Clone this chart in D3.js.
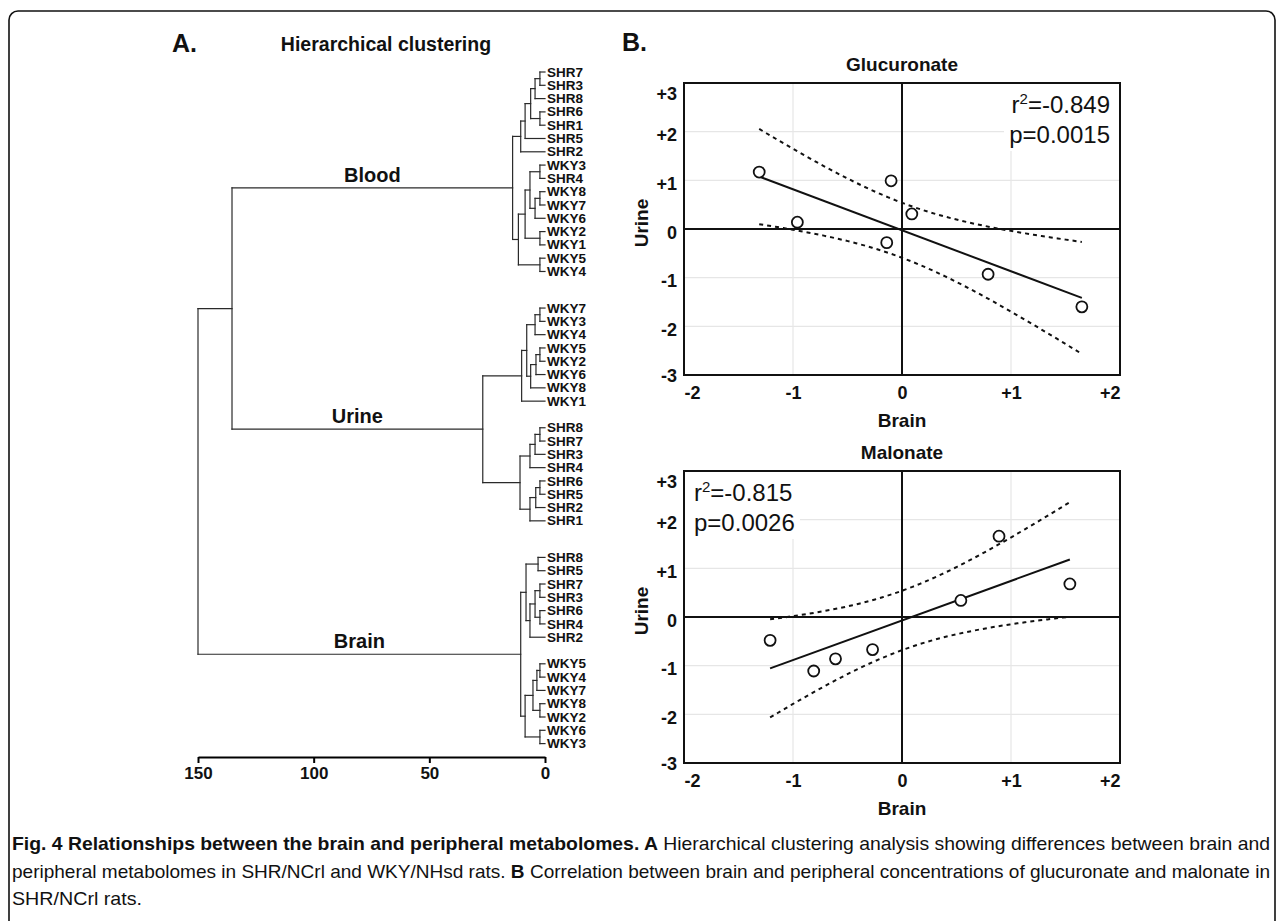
<!DOCTYPE html>
<html>
<head>
<meta charset="utf-8">
<script src="https://cdn.jsdelivr.net/npm/d3@7"></script>
<style>
body{margin:0;background:#fff}
svg text{font-family:"Liberation Sans",Arial,Helvetica,sans-serif;fill:#111}
</style>
</head>
<body>
<div id="canvas"></div>
<script>
// dendrograms, written as [left, right, mergeHeight]; leaves are names
const bloodTree = [
  [[[[['SHR7','SHR3',2.2],'SHR8',4.3],['SHR6','SHR1',2.2],6.2],'SHR5',8.6],'SHR2',10.5],
  [[[['WKY3','SHR4',2.2],[['WKY8','WKY7',2.2],'WKY6',4.3],6.5],['WKY2','WKY1',2.2],8.6],['WKY5','WKY4',2.2],11.5],
  14.0]
const urineTree = [
  [[[['WKY7','WKY3',2.2],'WKY4',4.3],[[['WKY5','WKY2',2.2],'WKY6',3.9],'WKY8',6.2],7.9],'WKY1',10.1],
  [[[['SHR8','SHR7',2.2],'SHR3',4.3],'SHR4',6.5],[[['SHR6','SHR5',2.2],'SHR2',4.0],'SHR1',6.5],10.8],
  26.9]
const brainTree = [
  [['SHR8','SHR5',3.0],[[['SHR7','SHR3',2.2],['SHR6','SHR4',2.2],4.3],'SHR2',6.5],8.2],
  [[[['WKY5','WKY4',2.2],'WKY7',3.5],['WKY8','WKY2',2.2],5.2],['WKY6','WKY3',2.2],8.6],
  10.5]
const tissues = ['Blood','Urine','Brain']
const topMerges = [135.3, 150]   // blood+urine, then with brain
const distTicks = [150,100,50,0]

// correlation panels
const glucBrain = [-1.31,-0.96,-0.10,-0.14,0.09,0.79,1.65]
const glucUrine = [1.17,0.14,0.99,-0.28,0.31,-0.93,-1.60]
const malBrain  = [-1.21,-0.81,-0.61,-0.27,0.54,0.89,1.54]
const malUrine  = [-0.48,-1.11,-0.86,-0.67,0.34,1.66,0.68]
const xTicks = [-2,-1,0,1,2]
const yTicks = [-3,-2,-1,0,1,2,3]
const glucStats = ['-0.849','0.0015']
const malStats  = ['-0.815','0.0026']
const T_CRIT = 2.571   // t(0.975, df=5)

const captionLines = [
  [['Fig. 4 Relationships between the brain and peripheral metabolomes. A',true],[' Hierarchical clustering analysis showing differences between brain and',false]],
  [['peripheral metabolomes in SHR/NCrl and WKY/NHsd rats. ',false],['B',true],[' Correlation between brain and peripheral concentrations of glucuronate and malonate in',false]],
  [['SHR/NCrl rats.',false]]
]

const width = 1282, height = 921
const svg = d3.select('#canvas').append('svg')
  .attr('width',width).attr('height',height)

svg.append('rect')
  .attr('x',9).attr('y',11).attr('width',1266).attr('height',960).attr('rx',9)
  .attr('fill','none').attr('stroke','#111').attr('stroke-width',1.6)

// ---------- A. dendrogram ----------
svg.append('text').text('A.').attr('x',172).attr('y',52)
  .attr('font-size',25).attr('font-weight','bold')
svg.append('text').text('Hierarchical clustering').attr('x',386).attr('y',51)
  .attr('text-anchor','middle').attr('font-size',19.5).attr('font-weight','bold')

function toNode(t){
  if (typeof t === 'string') return {name:t, h:0}
  return {h:t[2], children:[toNode(t[0]), toNode(t[1])]}
}
const tNodes = [bloodTree,urineTree,brainTree].map((t,i)=>Object.assign(toNode(t),{tissue:tissues[i]}))
const rootObj = {h:topMerges[1], children:[{h:topMerges[0], children:[tNodes[0],tNodes[1]]}, tNodes[2]]}
const hroot = d3.hierarchy(rootObj)

// leaf slots, with extra room between tissues and between the two main branches
const BLOCK_GAP = 1.75
const splitGap = {Blood:0, Urine:1, Brain:1}
let slot = 0, prevT = null, prevSide = null
hroot.leaves().forEach(l=>{
  const anc = l.ancestors()
  const ti = anc.findIndex(a=>a.data.tissue)
  const tis = anc[ti], side = anc[ti-1]
  if (prevT){
    slot += 1
    if (tis !== prevT) slot += BLOCK_GAP
    else if (side !== prevSide) slot += splitGap[tis.data.tissue]
  }
  l.slot = slot; prevT = tis; prevSide = side
})

const xD = d3.scaleLinear().domain([150,0]).range([198,545])
const yD = d3.scaleLinear().domain([0,slot]).range([72,743.6])

hroot.eachAfter(n=>{
  n.px = xD(n.data.h)
  n.py = n.children ? d3.mean(n.children,c=>c.py) : yD(n.slot)
})

const segs = []
hroot.each(n=>{
  if (!n.children) return
  segs.push([n.px,n.children[0].py,n.px,n.children[1].py])
  n.children.forEach(c=>segs.push([n.px,c.py,c.px,c.py]))
})
const dg = svg.append('g')
dg.selectAll('line').data(segs).join('line')
  .attr('x1',d=>d[0]).attr('y1',d=>d[1]).attr('x2',d=>d[2]).attr('y2',d=>d[3])
  .attr('stroke','#2a2a2a').attr('stroke-width',1.2).attr('stroke-linecap','square')

dg.selectAll('text.leaf').data(hroot.leaves()).join('text')
  .attr('class','leaf').text(d=>d.data.name)
  .attr('x',xD(0)+2).attr('y',d=>d.py+4.6)
  .attr('font-size',13.5).attr('font-weight','bold')

dg.selectAll('text.tis').data(hroot.descendants().filter(n=>n.data.tissue)).join('text')
  .attr('class','tis').text(d=>d.data.tissue)
  .attr('x',d=>(d.parent.px+d.px)/2).attr('y',d=>d.py-6)
  .attr('text-anchor','middle').attr('font-size',20).attr('font-weight','bold')

const dAxis = svg.append('g').attr('transform','translate(0,757)')
  .call(d3.axisBottom(xD).tickValues(distTicks).tickSize(6).tickSizeOuter(0).tickPadding(4))
dAxis.select('.domain').attr('stroke-width',2)
dAxis.selectAll('.tick line').attr('stroke-width',2)
dAxis.selectAll('text').attr('font-size',17).attr('font-weight','bold')
  .attr('font-family','"Liberation Sans",Arial,sans-serif')

// ---------- B. correlations ----------
svg.append('text').text('B.').attr('x',622).attr('y',51)
  .attr('font-size',25).attr('font-weight','bold')

const fmt = d=> d>0 ? '+'+d : String(d)

function scatter(top, title, xs, ys, stats, boxLeft){
  const L = 684, R = 1120, H = 292
  const x = d3.scaleLinear().domain([-2,2]).range([L,R])
  const y = d3.scaleLinear().domain([-3,3]).range([top+H,top])
  const g = svg.append('g')

  g.selectAll('.gx').data(xTicks).join('line')
    .attr('x1',d=>x(d)).attr('x2',d=>x(d)).attr('y1',top).attr('y2',top+H)
    .attr('stroke','#e6e6e6').attr('stroke-width',1.2)
  g.selectAll('.gy').data(yTicks).join('line')
    .attr('y1',d=>y(d)).attr('y2',d=>y(d)).attr('x1',L).attr('x2',R)
    .attr('stroke','#e6e6e6').attr('stroke-width',1.2)

  // white box behind stats
  const bw = 116, bh = 68
  g.append('rect').attr('x',boxLeft ? L : R-bw).attr('y',top).attr('width',bw).attr('height',bh)
    .attr('fill','#fff')

  g.append('line').attr('x1',x(0)).attr('x2',x(0)).attr('y1',top).attr('y2',top+H)
    .attr('stroke','#111').attr('stroke-width',2)
  g.append('line').attr('y1',y(0)).attr('y2',y(0)).attr('x1',L).attr('x2',R)
    .attr('stroke','#111').attr('stroke-width',2)

  // least squares fit with 95% confidence band of the mean
  const n = xs.length, mx = d3.mean(xs), my = d3.mean(ys)
  const sxx = d3.sum(xs,v=>(v-mx)*(v-mx))
  const sxy = d3.sum(xs,(v,i)=>(v-mx)*(ys[i]-my))
  const b = sxy/sxx, a = my-b*mx
  const sse = d3.sum(xs,(v,i)=>Math.pow(ys[i]-(a+b*v),2))
  const s = Math.sqrt(sse/(n-2))
  const [x0,x1] = d3.extent(xs)
  const grid = d3.range(0,41).map(i=>x0+(x1-x0)*i/40)
  const half = v=>T_CRIT*s*Math.sqrt(1/n+(v-mx)*(v-mx)/sxx)
  const ln = d3.line().x(d=>x(d[0])).y(d=>y(d[1]))
  g.append('path').attr('d',ln(grid.map(v=>[v,a+b*v+half(v)])))
    .attr('fill','none').attr('stroke','#111').attr('stroke-width',2).attr('stroke-dasharray','4,4')
  g.append('path').attr('d',ln(grid.map(v=>[v,a+b*v-half(v)])))
    .attr('fill','none').attr('stroke','#111').attr('stroke-width',2).attr('stroke-dasharray','4,4')
  g.append('path').attr('d',ln([[x0,a+b*x0],[x1,a+b*x1]]))
    .attr('fill','none').attr('stroke','#111').attr('stroke-width',2)

  g.selectAll('circle').data(xs).join('circle')
    .attr('cx',d=>x(d)).attr('cy',(d,i)=>y(ys[i])).attr('r',5.5)
    .attr('fill','#fff').attr('stroke','#111').attr('stroke-width',1.8)

  g.append('rect').attr('x',L).attr('y',top).attr('width',R-L).attr('height',H)
    .attr('fill','none').attr('stroke','#111').attr('stroke-width',2)

  // tick labels
  const ax = g.append('g').attr('transform',`translate(0,${top+H})`)
    .call(d3.axisBottom(x).tickValues(xTicks).tickSize(0).tickPadding(11).tickFormat(fmt))
  ax.select('.domain').remove()
  ax.selectAll('text').attr('font-size',18).attr('font-weight','bold')
    .attr('font-family','"Liberation Sans",Arial,sans-serif')
    .attr('text-anchor',d=>d===-2?'start':d===2?'end':'middle')
  const ay = g.append('g').attr('transform',`translate(${L},0)`)
    .call(d3.axisLeft(y).tickValues(yTicks).tickSize(0).tickPadding(7).tickFormat(fmt))
  ay.select('.domain').remove()
  ay.selectAll('text').attr('font-size',18).attr('font-weight','bold')
    .attr('font-family','"Liberation Sans",Arial,sans-serif')
    .attr('dy',d=>d===3?'0.9em':d===-3?'0.36em':'0.5em')

  g.append('text').text(title).attr('x',x(0)).attr('y',top-12)
    .attr('text-anchor','middle').attr('font-size',19).attr('font-weight','bold')
  g.append('text').text('Brain').attr('x',x(0)).attr('y',top+H+52)
    .attr('text-anchor','middle').attr('font-size',19).attr('font-weight','bold')
  g.append('text').text('Urine')
    .attr('transform',`translate(${L-43},${y(0)-6}) rotate(-90)`)
    .attr('text-anchor','middle').attr('dominant-baseline','central')
    .attr('font-size',19).attr('font-weight','bold')

  // stats
  const st = g.append('text').attr('font-size',24).attr('fill','#222')
    .attr('text-anchor',boxLeft?'start':'end')
    .attr('x',boxLeft ? L+10 : R-10).attr('y',top+30)
  st.append('tspan').text('r')
  st.append('tspan').text('2').attr('font-size',15).attr('dy',-9)
  st.append('tspan').text('=' + stats[0]).attr('dy',9)
  g.append('text').attr('font-size',24).attr('fill','#222')
    .attr('text-anchor',boxLeft?'start':'end')
    .attr('x',boxLeft ? L+10 : R-10).attr('y',top+60)
    .text('p=' + stats[1])
}

scatter(83,'Glucuronate',glucBrain,glucUrine,glucStats,false)
scatter(471,'Malonate',malBrain,malUrine,malStats,true)

// ---------- caption ----------
const capLen = [1258,1258,130]
captionLines.forEach((line,i)=>{
  const t = svg.append('text').attr('x',12).attr('y',850+i*27.5)
    .attr('font-size',18.5).style('white-space','pre')
    .attr('font-family','"Liberation Sans Narrow","DejaVu Sans Condensed","Liberation Sans",sans-serif')
    .attr('textLength',capLen[i]).attr('lengthAdjust','spacingAndGlyphs')
  t.selectAll('tspan').data(line).join('tspan')
    .text(d=>d[0]).attr('font-weight',d=>d[1]?'bold':'normal')
    .style('font-family','inherit')
})
</script>
</body>
</html>
